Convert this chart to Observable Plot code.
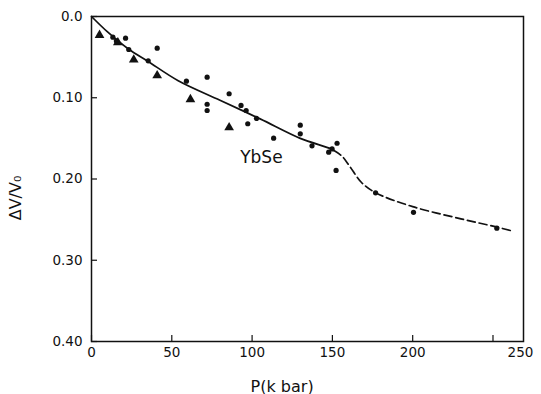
<!DOCTYPE html>
<html><head><meta charset="utf-8">
<script src="https://cdn.jsdelivr.net/npm/d3@7"></script>
<script src="https://cdn.jsdelivr.net/npm/@observablehq/plot@0.6"></script>
<style>body{margin:0;background:#fff} svg{display:block}</style>
</head><body><div id="chart"></div>
<script>
// Pressure (kbar) and relative volume change ΔV/V0 — YbSe
const circleP = [13.3, 15.5, 21.2, 23.2, 35.3, 40.9, 59.1, 72, 72, 72, 85.7, 93.1, 96.3, 97.3, 102.7, 113.4, 130, 130, 137.3, 147.7, 149.8, 152.9, 152.3, 176.9, 200.5, 252.4];
const circleV = [0.0255, 0.030, 0.0267, 0.0406, 0.0545, 0.039, 0.0796, 0.0747, 0.108, 0.1157, 0.0951, 0.1095, 0.1157, 0.132, 0.1255, 0.1497, 0.1337, 0.1444, 0.1592, 0.167, 0.163, 0.156, 0.1895, 0.217, 0.241, 0.2605];
const triP = [5.0, 16.4, 26.3, 40.9, 61.6, 85.7];
const triV = [0.023, 0.032, 0.0533, 0.0726, 0.102, 0.1366];
const solidP = [0, 10, 23, 35, 54, 80, 105, 130, 148, 151];
const solidV = [0, 0.019, 0.040, 0.055, 0.079, 0.103, 0.126, 0.150, 0.162, 0.165];
const dashP = [151, 156, 161, 168, 177, 200, 230, 252, 262];
const dashV = [0.165, 0.172, 0.185, 0.204, 0.217, 0.234, 0.249, 0.259, 0.264];
const xTicks = [0, 50, 100, 150, 200, 250];
const yTicks = [0, 0.1, 0.2, 0.3, 0.4];
const xMax = 269, yMax = 0.4;
const labelText = ["YbSe"], labelP = [105.8], labelV = [0.1735];
const xTitle = "P(k bar)", xTitleP = 118.7;
const yTitle = "ΔV/V₀";

const pts = (xs, ys) => xs.map((x, i) => ({x, y: ys[i]}));
const ink = "#111";
// inward tick length expressed in data units (≈6px)
const xTickLen = yMax * 6 / 325, yTickLen = xMax * 6 / 432;
const chart = Plot.plot({
  width: 541, height: 394,
  marginTop: 16, marginLeft: 91, marginRight: 18, marginBottom: 53,
  style: {fontFamily: "DejaVu Sans, sans-serif", fontSize: "13px", background: "#fff", color: ink},
  x: {domain: [0, xMax]},
  y: {domain: [0, yMax], reverse: true},
  marks: [
    Plot.frame({stroke: ink, strokeWidth: 1.5}),
    Plot.axisX({ticks: xTicks, tickSize: 0, tickPadding: 6, tickFormat: d => d === 250 ? "" : String(d), label: null, fontSize: 13.5}),
    Plot.text([xMax], {x: d => d, frameAnchor: "bottom", text: () => "250", dy: 6, lineAnchor: "top", dx: -3, fontSize: 13.5}),
    Plot.axisY({ticks: yTicks, tickSize: 0, tickPadding: 9, tickFormat: d => d === 0 ? "0.0" : d.toFixed(2), label: null, fontSize: 13.5}),
    Plot.ruleX(xTicks, {x: d => d, y1: yMax, y2: yMax - xTickLen, stroke: ink, strokeWidth: 1.2}),
    Plot.ruleY(yTicks, {y: d => d, x1: 0, x2: yTickLen, stroke: ink, strokeWidth: 1.2}),
    Plot.line(pts(solidP, solidV), {x: "x", y: "y", curve: "catmull-rom", stroke: ink, strokeWidth: 1.7}),
    Plot.line(pts(dashP, dashV), {x: "x", y: "y", curve: "catmull-rom", stroke: ink, strokeWidth: 1.7, strokeDasharray: "8,4"}),
    Plot.dot(pts(circleP, circleV), {x: "x", y: "y", r: 2.6, fill: ink, stroke: "none"}),
    Plot.dot(pts(triP, triV), {x: "x", y: "y", r: 3.6, symbol: "triangle", fill: ink, stroke: "none"}),
    Plot.text(labelText, {x: (d, i) => labelP[i], y: (d, i) => labelV[i], text: d => d, fontSize: 17}),
    Plot.text([xTitle], {x: () => xTitleP, frameAnchor: "bottom", text: d => d, dy: 50, fontSize: 16}),
    Plot.text([yTitle], {frameAnchor: "left", textAnchor: "middle", text: d => d, rotate: -90, dx: -76, dy: 19, fontSize: 16})
  ]
});
document.getElementById("chart").append(chart);
</script>
</body></html>
